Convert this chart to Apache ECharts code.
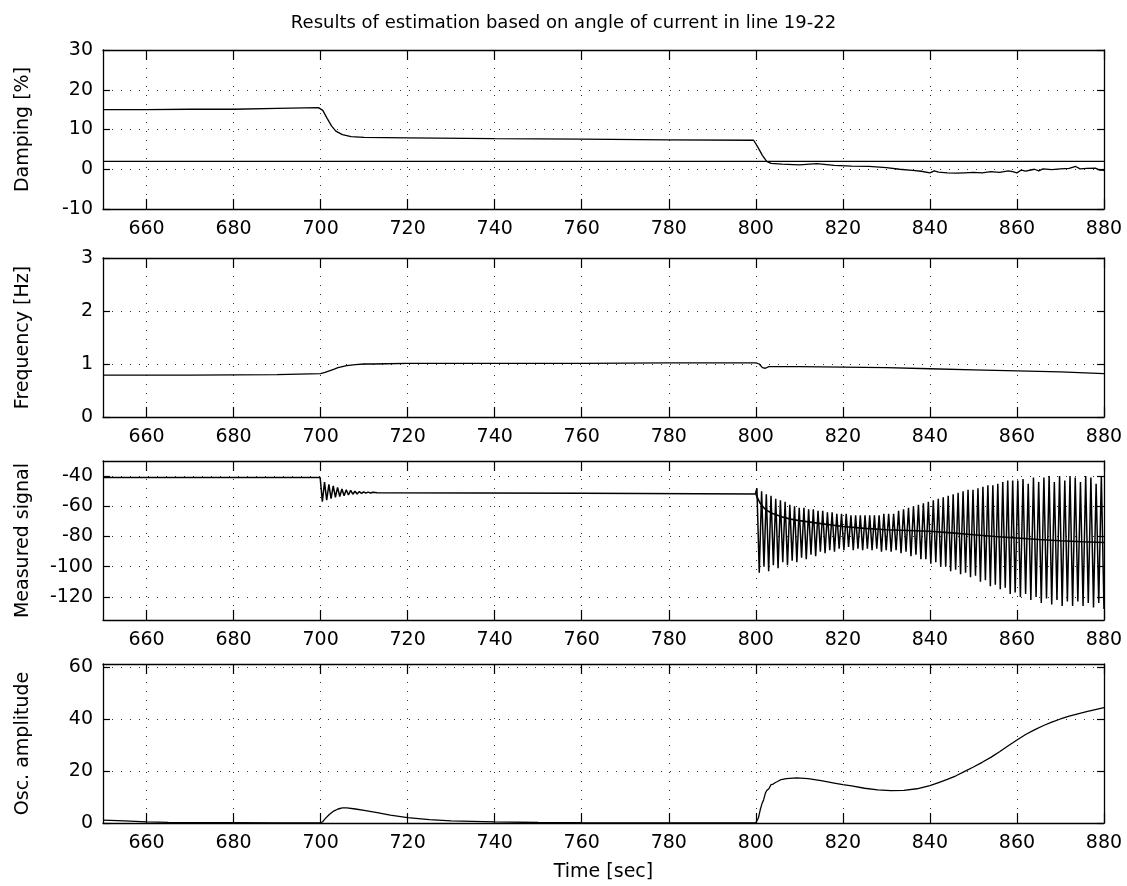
<!DOCTYPE html>
<html>
<head>
<meta charset="utf-8">
<script src="https://cdn.jsdelivr.net/npm/echarts@6/dist/echarts.min.js"></script>
<style>
  html, body { margin: 0; padding: 0; background: #fff; }
  #chart { width: 1127px; height: 886px; }
</style>
</head>
<body>
<div id="chart"></div>
<script>
// time axis shared by all four panels
const timeRange = [650, 880]
const timeTicks = [660, 680, 700, 720, 740, 760, 780, 800, 820, 840, 860, 880]

// damping estimate [%]
const dampingTicks = [-10, 0, 10, 20, 30]
const dampingRange = [-10, 30]
const dampingT = [650, 660, 670, 680, 690, 699.5, 700.5, 701.5, 702.5, 703.5, 705, 707, 710, 720, 740,
  760, 780, 799.5, 800.5, 801.5, 802.5, 803.5, 806, 810, 814, 818, 822, 826, 830, 833,
  836, 838, 840, 841, 842, 844, 846, 848, 850, 852, 854, 856, 858, 859, 860,
  861, 862, 864, 865, 866, 868, 870, 872, 873.5, 874.5, 876, 878, 879, 880]
const dampingV = [15.0, 15.0, 15.1, 15.1, 15.3, 15.5, 14.8, 12.8, 10.9, 9.6, 8.7, 8.2, 8.0, 7.9, 7.7,
  7.6, 7.4, 7.3, 5.5, 3.5, 2.0, 1.5, 1.3, 1.1, 1.4, 1.0, 0.8, 0.7, 0.4, 0.0,
  -0.3, -0.5, -0.9, -0.4, -0.7, -0.9, -1.0, -0.9, -0.8, -0.9, -0.6, -0.8, -0.4, -0.6, -0.9,
  -0.2, -0.5, 0.0, -0.4, 0.1, -0.1, 0.1, 0.2, 0.7, 0.1, 0.2, 0.3, -0.2, -0.3]
const dampingLimit = 2

// frequency estimate [Hz]
const freqTicks = [0, 1, 2, 3]
const freqRange = [0, 3]
const freqT = [650, 670, 690, 700, 701, 702, 703, 704, 705, 706, 708, 710, 712, 715, 720,
  740, 760, 780, 800, 800.8, 801.5, 802.2, 803, 810, 820, 830, 840, 850, 860, 870, 880]
const freqV = [0.79, 0.79, 0.80, 0.82, 0.84, 0.87, 0.90, 0.93, 0.95, 0.97, 0.99, 1.0, 1.0, 1.005, 1.01,
  1.01, 1.01, 1.02, 1.02, 1.0, 0.93, 0.92, 0.95, 0.95, 0.94, 0.93, 0.91, 0.89, 0.87, 0.85, 0.82]

// measured signal
const signalTicks = [-120, -100, -80, -60, -40]
const signalRange = [-135.3, -30]
const signalBaseT = [650, 699.9, 700.1, 700.4, 700.9, 701.4, 701.9, 702.4, 702.9, 703.4, 703.9, 704.4, 704.9, 705.4, 705.9,
  706.4, 706.9, 707.4, 707.9, 708.4, 708.9, 709.4, 709.9, 710.4, 710.9, 711.5, 712, 713, 760, 799.9]
const signalBaseV = [-41, -41, -42, -57, -44, -56, -45.5, -55, -46.5, -54, -47.5, -53.5, -48.5, -53, -49,
  -52.5, -49.5, -52, -50, -51.8, -50.2, -51.5, -50.4, -51.3, -50.6, -51.2, -50.7, -51, -51.3, -51.8]
// swing extremes after the second disturbance
const swingT = [
  800.25, 800.79, 801.33, 801.87, 802.41, 802.95, 803.49, 804.03, 804.57, 805.11,
  805.65, 806.19, 806.73, 807.27, 807.81, 808.35, 808.89, 809.43, 809.97, 810.51,
  811.05, 811.59, 812.13, 812.67, 813.21, 813.75, 814.29, 814.83, 815.37, 815.91,
  816.45, 816.99, 817.53, 818.07, 818.61, 819.15, 819.69, 820.23, 820.77, 821.31,
  821.85, 822.39, 822.93, 823.47, 824.01, 824.55, 825.09, 825.63, 826.17, 826.71,
  827.25, 827.79, 828.33, 828.87, 829.41, 829.95,
  830.52, 831.09, 831.66, 832.23, 832.80, 833.37, 833.94, 834.51, 835.08, 835.65,
  836.22, 836.79, 837.36, 837.93, 838.50, 839.07, 839.64, 840.21, 840.78, 841.35,
  841.92, 842.49, 843.06, 843.63, 844.20, 844.77, 845.34, 845.91, 846.48, 847.05,
  847.62, 848.19, 848.76, 849.33, 849.90, 850.47, 851.04, 851.61, 852.18, 852.75,
  853.32, 853.89, 854.46, 855.03, 855.60, 856.17, 856.74, 857.31, 857.88, 858.45,
  859.02, 859.59,
  860.19, 860.79, 861.39, 861.99, 862.59, 863.19, 863.79, 864.39, 864.99, 865.59,
  866.19, 866.79, 867.39, 867.99, 868.59, 869.19, 869.79, 870.39, 870.99, 871.59,
  872.19, 872.79, 873.39, 873.99, 874.59, 875.19, 875.79, 876.39, 876.99, 877.59,
  878.19, 878.79, 879.39, 879.99]
const swingV = [
  -48, -104, -50, -100, -52, -103, -53, -99, -55, -101,
  -56, -97, -57, -99, -59, -96, -60, -97, -61, -94,
  -61, -95, -62, -92, -62, -93, -63, -90, -63, -91,
  -64, -89, -64, -90, -65, -88, -65, -89, -65, -87,
  -66, -89, -66, -88, -66, -89, -66, -88, -66, -89,
  -66, -88, -66, -90, -65, -89,
  -65, -90, -65, -89, -63, -91, -62, -90, -61, -93,
  -60, -92, -59, -95, -58, -95, -57, -98, -56, -97,
  -55, -100, -54, -100, -53, -103, -52, -102, -51, -105,
  -50, -104, -49, -107, -49, -106, -48, -110, -47, -109,
  -46, -113, -46, -112, -45, -115, -44, -114, -43, -118,
  -43, -117,
  -43, -120, -42, -118, -45, -122, -41, -120, -44, -124,
  -41, -121, -40, -125, -44, -122, -40, -126, -43, -123,
  -40, -126, -41, -123, -44, -126, -40, -124, -41, -127,
  -45, -124, -40, -128]
// slowly varying mean of the signal after 800 s
const trendT = [800, 800.5, 801, 802, 803, 804, 806, 808, 810, 815, 820, 825, 830, 835, 840,
  845, 850, 855, 860, 865, 870, 875, 880]
const trendV = [-52, -55, -58, -61.5, -63.5, -65, -67, -68.5, -69.5, -71.5, -73.4, -74.6, -75.5, -76, -76.5,
  -77.6, -78.8, -80, -81, -82, -82.8, -83.5, -84]

// oscillation amplitude
const ampTicks = [0, 20, 40, 60]
const ampRange = [0, 61.3]
const ampT = [650, 655, 660, 665, 670, 680, 690, 700, 700.5, 701, 702, 703, 704, 705, 706,
  708, 710, 713, 716, 720, 725, 730, 740, 750, 760, 780, 800, 800.2, 800.6, 801,
  801.4, 801.8, 802.2, 802.5, 803, 803.5, 804, 804.5, 805, 805.6, 807, 809.4, 812, 815, 818,
  820, 822, 825, 828, 831, 834, 837, 840, 842, 844, 846, 848, 850, 852, 854,
  856, 858, 860, 862, 864, 866, 868, 870, 872, 874, 876, 878, 880]
const ampV = [1.1, 0.8, 0.4, 0.25, 0.15, 0.1, 0.05, 0.05, 0.5, 1.6, 3.3, 4.6, 5.4, 5.8, 5.8,
  5.4, 4.9, 4.0, 3.0, 2.1, 1.3, 0.8, 0.4, 0.2, 0.1, 0.05, 0.05, 0.1, 2.0, 5.0,
  7.4, 9.0, 11.5, 12.5, 13.2, 14.8, 15.0, 15.6, 16.0, 16.6, 17.1, 17.4, 17.1, 16.3, 15.4,
  14.8, 14.3, 13.4, 12.8, 12.5, 12.6, 13.2, 14.4, 15.6, 16.8, 18.2, 19.9, 21.6, 23.4, 25.3,
  27.5, 29.8, 32.0, 34.1, 35.9, 37.5, 38.9, 40.1, 41.2, 42.1, 42.9, 43.7, 44.5]

const panelNames = ['Damping [%]', 'Frequency [Hz]', 'Measured signal', 'Osc. amplitude']
const panelRanges = [dampingRange, freqRange, signalRange, ampRange]
const panelTicks = [dampingTicks, freqTicks, signalTicks, ampTicks]

const gridTops = [50, 258, 461, 664]
const gridLeft = 103
const gridWidth = 1001
const gridHeight = 159
const font = 'DejaVu Sans, Liberation Sans, sans-serif'
const gridDots = { type: [1, 8], color: '#333', width: 1 }

const pair = (ts, vs) => ts.map((t, i) => [t, vs[i]])

const grids = gridTops.map(top => ({ left: gridLeft, top, width: gridWidth, height: gridHeight }))

const xAxes = []
const yAxes = []
gridTops.forEach((_, i) => {
  const boxLine = { show: true, onZero: false, lineStyle: { color: '#000', width: 1.3 } }
  xAxes.push({
    type: 'value', gridIndex: i, position: 'bottom',
    min: timeRange[0], max: timeRange[1],
    axisLine: boxLine,
    axisTick: { show: true, inside: true, length: 10, customValues: timeTicks, lineStyle: { color: '#000', width: 1.2 } },
    axisLabel: { customValues: timeTicks, color: '#000', fontSize: 19, fontFamily: font, margin: 11 },
    splitLine: { show: true, lineStyle: gridDots },
    name: i === 3 ? 'Time [sec]' : '',
    nameLocation: 'middle', nameGap: 40,
    nameTextStyle: { color: '#000', fontSize: 19, fontFamily: font }
  })
  xAxes.push({
    type: 'value', gridIndex: i, position: 'top',
    min: timeRange[0], max: timeRange[1],
    axisLine: boxLine,
    axisTick: { show: true, inside: true, length: 10, customValues: timeTicks, lineStyle: { color: '#000', width: 1.2 } },
    axisLabel: { show: false },
    splitLine: { show: false }
  })
  yAxes.push({
    type: 'value', gridIndex: i, position: 'left',
    min: panelRanges[i][0], max: panelRanges[i][1],
    axisLine: boxLine,
    axisTick: { show: true, inside: true, length: 7, customValues: panelTicks[i], lineStyle: { color: '#000', width: 1.2 } },
    axisLabel: { customValues: panelTicks[i], color: '#000', fontSize: 19, fontFamily: font, margin: 10 },
    splitLine: { show: true, lineStyle: gridDots },
    name: panelNames[i], nameLocation: 'middle', nameRotate: 90, nameGap: 70,
    nameTextStyle: { color: '#000', fontSize: 19, fontFamily: font }
  })
  yAxes.push({
    type: 'value', gridIndex: i, position: 'right',
    min: panelRanges[i][0], max: panelRanges[i][1],
    axisLine: boxLine,
    axisTick: { show: true, inside: true, length: 7, customValues: panelTicks[i], lineStyle: { color: '#000', width: 1.2 } },
    axisLabel: { show: false },
    splitLine: { show: false }
  })
})

const line = (panel, data, width) => ({
  type: 'line', xAxisIndex: panel * 2, yAxisIndex: panel * 2,
  data, showSymbol: false, symbol: 'none',
  lineStyle: { color: '#000', width: width || 1.3 }, silent: true
})

const chart = echarts.init(document.getElementById('chart'))
chart.setOption({
  animation: false,
  backgroundColor: '#fff',
  title: {
    text: 'Results of estimation based on angle of current in line 19-22',
    left: 'center', top: 9,
    textStyle: { color: '#000', fontSize: 18, fontWeight: 'normal', fontFamily: font }
  },
  grid: grids,
  xAxis: xAxes,
  yAxis: yAxes,
  series: [
    line(0, pair(dampingT, dampingV)),
    line(0, [[timeRange[0], dampingLimit], [timeRange[1], dampingLimit]]),
    line(1, pair(freqT, freqV)),
    line(2, pair(signalBaseT.concat(swingT), signalBaseV.concat(swingV)), 1.5),
    line(2, pair(trendT, trendV), 1.6),
    line(3, pair(ampT, ampV))
  ]
})
</script>
</body>
</html>
